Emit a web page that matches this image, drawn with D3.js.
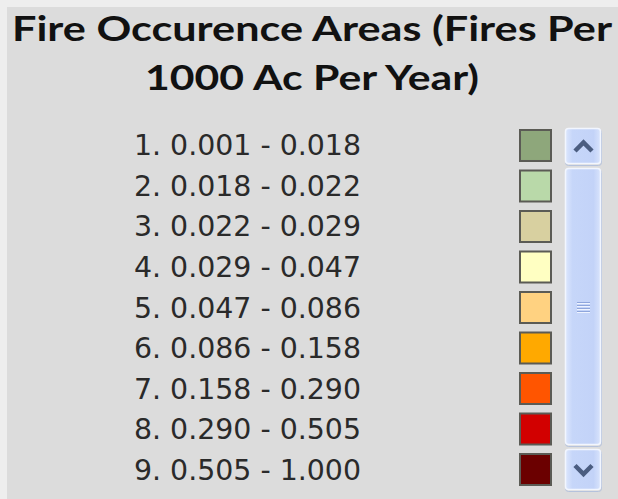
<!DOCTYPE html>
<html>
<head>
<meta charset="utf-8">
<script src="https://cdn.jsdelivr.net/npm/d3@7"></script>
<style>
  html, body { margin: 0; padding: 0; background: #eeeeee; }
  svg { display: block; }
  .title { font-family: Lato, "DejaVu Sans", sans-serif; font-weight: bold; font-size: 35px; fill: #111; }
  .class-label { font-family: "DejaVu Sans", sans-serif; font-size: 29px; fill: #2a2a2a; }
</style>
</head>
<body>
<svg id="chart" width="618" height="499"></svg>
<script>
const WIDTH = 618;
const HEIGHT = 499;

const TITLE_LINES = ["Fire Occurence Areas (Fires Per", "1000 Ac Per Year)"];
const CLASS_BREAKS = ["0.001", "0.018", "0.022", "0.029", "0.047", "0.086", "0.158", "0.290", "0.505", "1.000"];
const CLASS_COLORS = ["#8ea77b", "#b9d9a9", "#d8d0a0", "#ffffc2", "#ffd281", "#ffa900", "#ff5500", "#d20000", "#6b0000"];

const classes = CLASS_COLORS.map((color, i) => ({
    label: `${i + 1}. ${CLASS_BREAKS[i]} - ${CLASS_BREAKS[i + 1]}`,
    color: color,
}));

const svg = d3.select("#chart");
const defs = svg.append("defs");

// light blue xp-style scrollbar fill
const grad = defs.append("linearGradient").attr("id", "sb-fill").attr("x1", 0).attr("x2", 1).attr("y1", 0).attr("y2", 0);
grad.append("stop").attr("offset", "0%").attr("stop-color", "#dde7fd");
grad.append("stop").attr("offset", "20%").attr("stop-color", "#c6d6f9");
grad.append("stop").attr("offset", "80%").attr("stop-color", "#c3d3f8");
grad.append("stop").attr("offset", "100%").attr("stop-color", "#d9e4fc");

// panel
svg.append("rect")
    .attr("x", 7).attr("y", 7)
    .attr("width", WIDTH - 7).attr("height", HEIGHT - 7)
    .attr("fill", "#dcdcdc");

svg.selectAll(".title")
    .data(TITLE_LINES)
    .enter()
    .append("text")
    .attr("class", "title")
    .attr("x", 312)
    .attr("y", (_d, i) => 41 + i * 49)
    .attr("text-anchor", "middle")
    .attr("textLength", (_d, i) => i === 0 ? 600 : 334)
    .attr("lengthAdjust", "spacingAndGlyphs")
    .text((d) => d);

const rowScale = d3.scaleBand()
    .domain(classes.map((d) => d.label))
    .range([129, 485])
    .paddingInner(0.21)
    .paddingOuter(0);

svg.selectAll(".class-label")
    .data(classes)
    .enter()
    .append("text")
    .attr("class", "class-label")
    .attr("x", 134)
    .attr("y", (d) => rowScale(d.label) + rowScale.bandwidth() / 2 + 10.5)
    .attr("textLength", 227)
    .attr("lengthAdjust", "spacingAndGlyphs")
    .text((d) => d.label);

svg.selectAll(".swatch")
    .data(classes)
    .enter()
    .append("rect")
    .attr("class", "swatch")
    .attr("x", 520)
    .attr("y", (d) => rowScale(d.label) + 1)
    .attr("width", 31)
    .attr("height", rowScale.bandwidth() - 1)
    .attr("fill", (d) => d.color)
    .attr("stroke", "#5b5b55")
    .attr("stroke-width", 2);

// scrollbar: up button, thumb, down button
const sbParts = [
    { y: 128, h: 36 },
    { y: 168, h: 277 },
    { y: 449, h: 41 },
];

const sb = svg.append("g");
sb.selectAll(".sb-shadow")
    .data(sbParts)
    .enter()
    .append("rect")
    .attr("x", 565.5).attr("y", (d) => d.y + 1.5)
    .attr("width", 36).attr("height", (d) => d.h)
    .attr("rx", 3)
    .attr("fill", "none")
    .attr("stroke", "#b5c2dc")
    .attr("stroke-width", 1);

sb.selectAll(".sb-part")
    .data(sbParts)
    .enter()
    .append("rect")
    .attr("x", 565.5).attr("y", (d) => d.y + 0.5)
    .attr("width", 35).attr("height", (d) => d.h - 1)
    .attr("rx", 3)
    .attr("fill", "url(#sb-fill)")
    .attr("stroke", "#f2f6ff")
    .attr("stroke-width", 1.5);

// grip lines in the thumb
sb.selectAll(".grip")
    .data(d3.range(4))
    .enter()
    .append("line")
    .attr("x1", 577).attr("x2", 590)
    .attr("y1", (d) => 302.5 + d * 3)
    .attr("y2", (d) => 302.5 + d * 3)
    .attr("stroke", "#8fa6dc")
    .attr("stroke-width", 1);

sb.selectAll(".grip-hi")
    .data(d3.range(4))
    .enter()
    .append("line")
    .attr("x1", 577).attr("x2", 590)
    .attr("y1", (d) => 303.5 + d * 3)
    .attr("y2", (d) => 303.5 + d * 3)
    .attr("stroke", "#eef3ff")
    .attr("stroke-width", 1);

// arrows
const arrow = d3.line();
sb.append("path")
    .attr("d", arrow([[575, 151], [583.5, 142.5], [592, 151]]))
    .attr("fill", "none")
    .attr("stroke", "#4b5d80")
    .attr("stroke-width", 4.5);

sb.append("path")
    .attr("d", arrow([[575, 465.5], [583.5, 474], [592, 465.5]]))
    .attr("fill", "none")
    .attr("stroke", "#4b5d80")
    .attr("stroke-width", 4.5);
</script>
</body>
</html>
